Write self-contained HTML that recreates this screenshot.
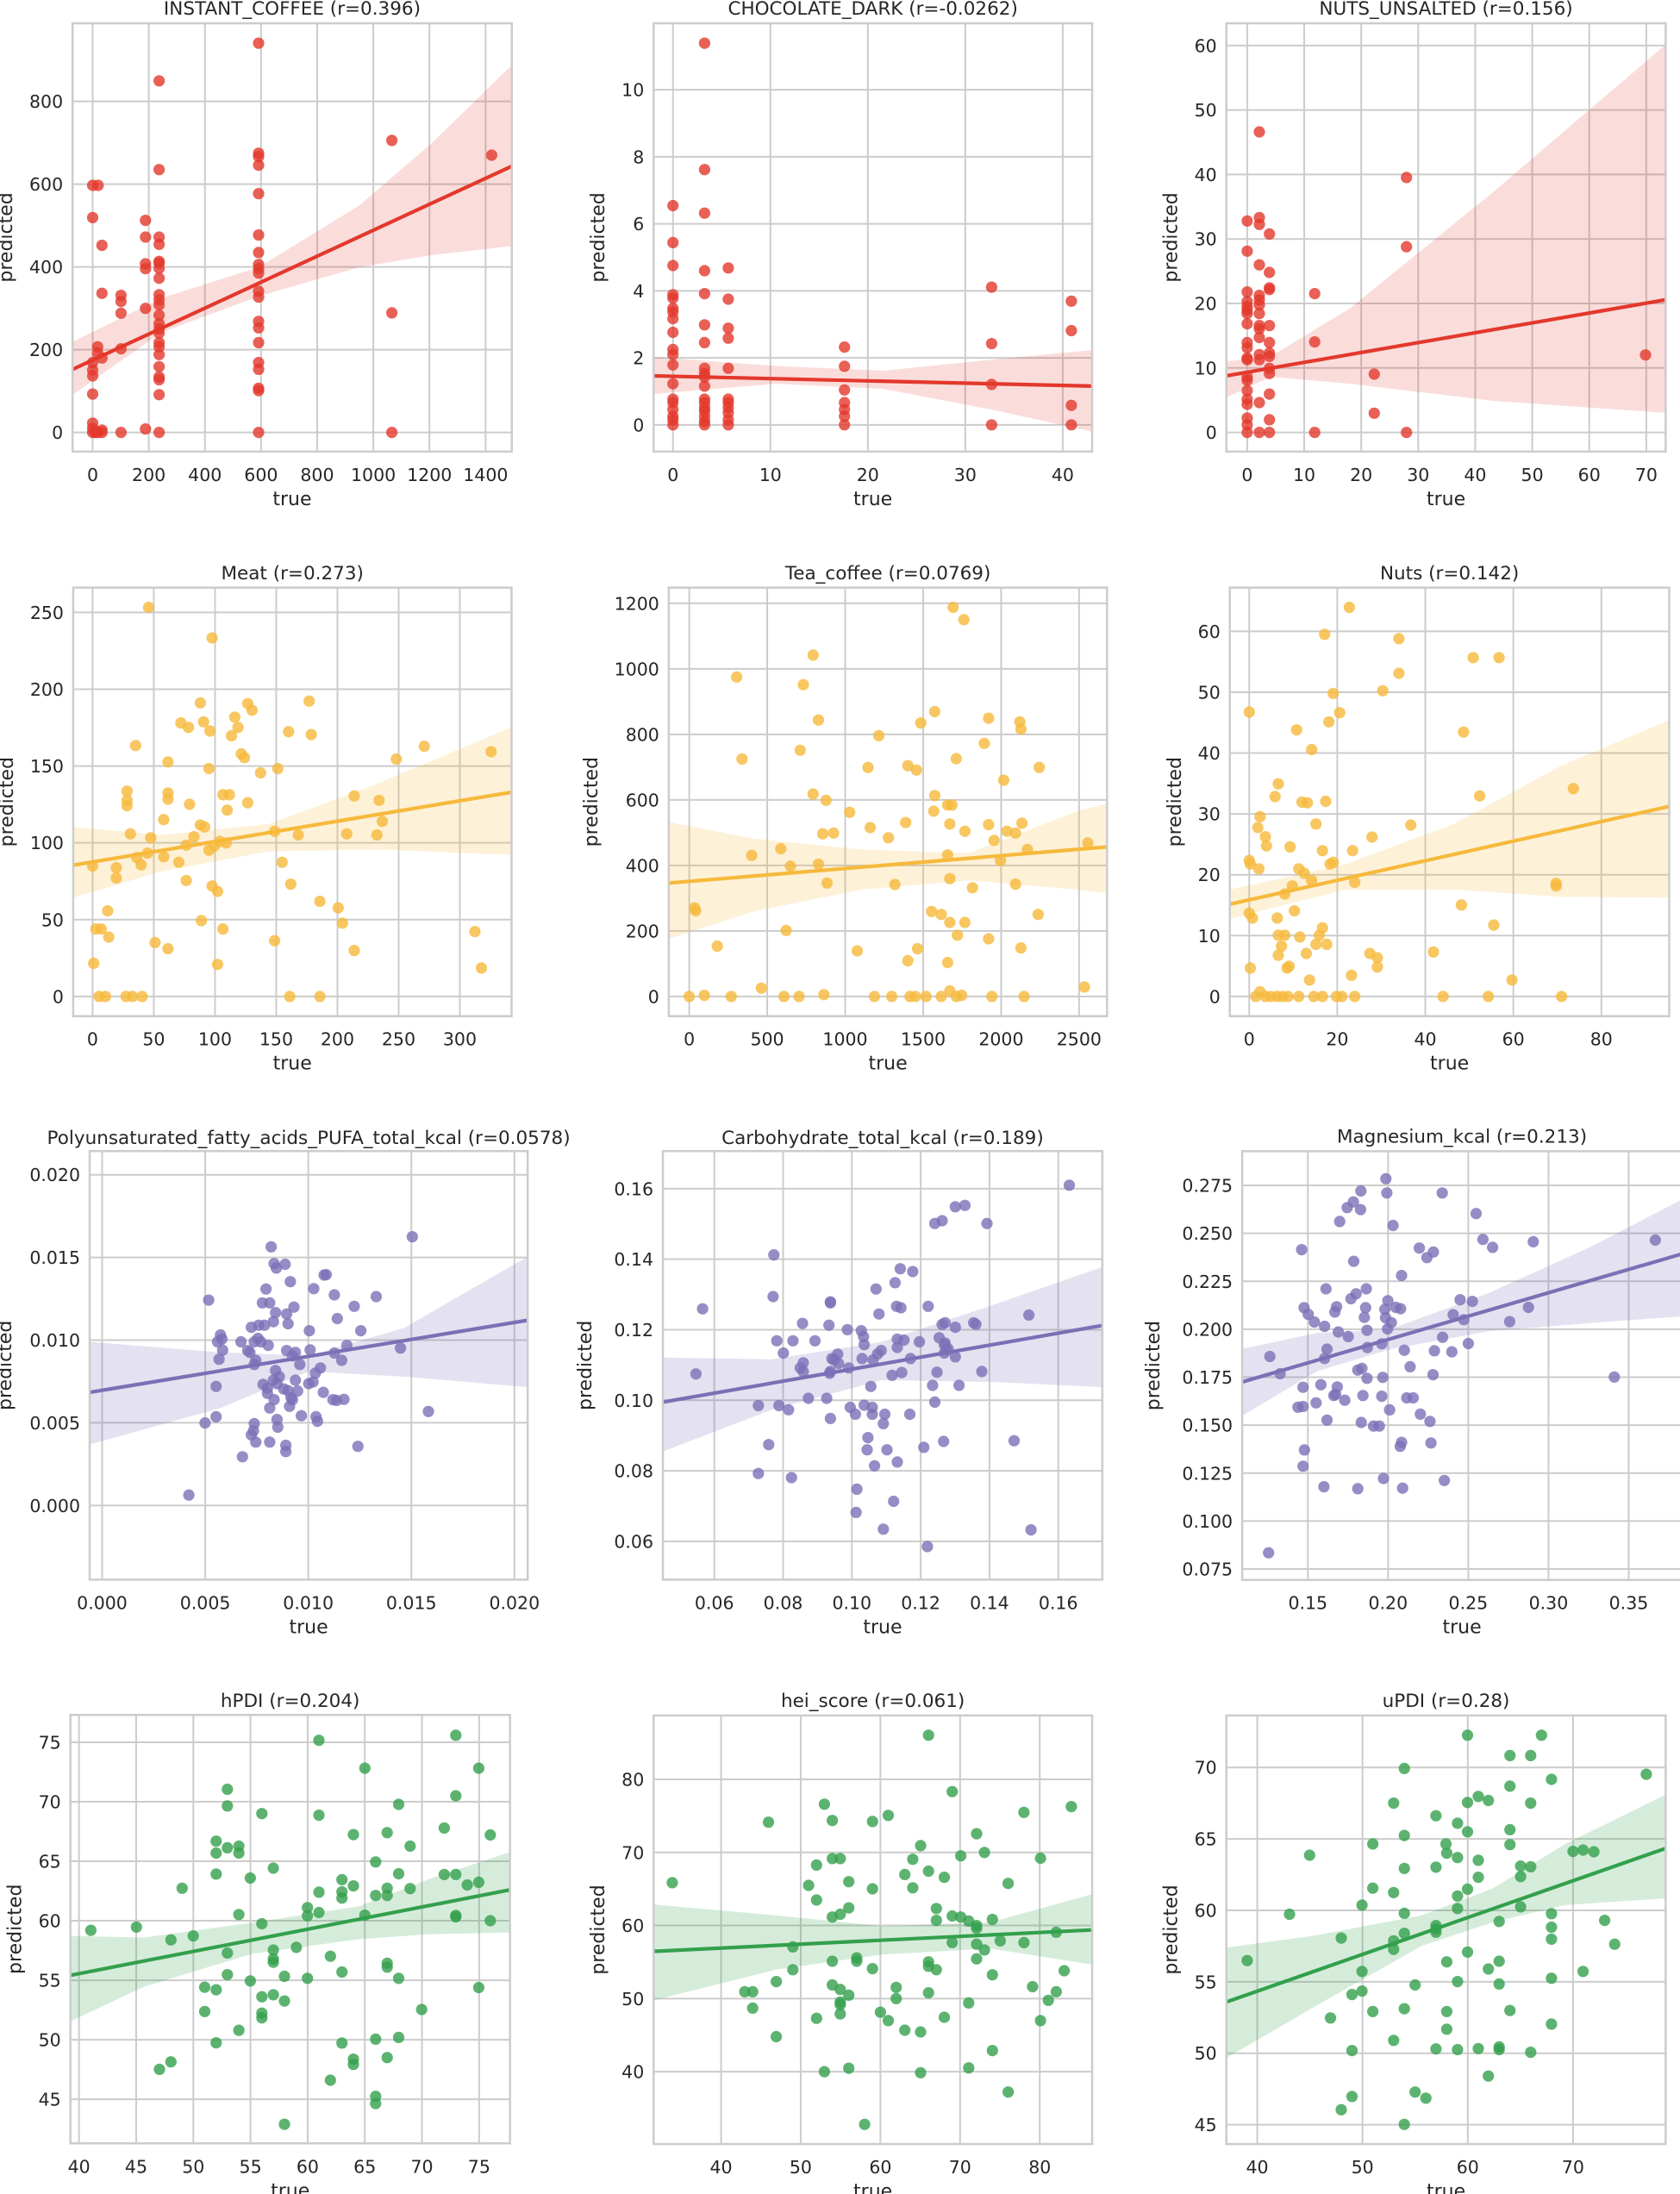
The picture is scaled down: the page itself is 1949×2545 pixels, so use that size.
<!DOCTYPE html>
<html><head><meta charset="utf-8"><style>html,body{margin:0;padding:0;background:#fff}svg{display:block}</style></head>
<body><div id="root"></div>
<script>
function col(x,ys){return ys.map(y=>[x,y]);}
const R='#e3382c',Yc='#f6b93b',Pu='#7a70b6',G='#33a04c';
const P=[
{z:[0,0,650/1560,620/1560],f:[202,68,1425,1318],xt:[0,200,8,258,1352,0],yt:[0,200,5,1262,296,0],title:'INSTANT_COFFEE (r=0.396)',ty:22,c:R,
line:[202,1078,1425,485],bt:[[202,998],[450,870],[720,780],[1000,600],[1200,420],[1425,190]],bb:[[202,1152],[450,970],[720,865],[1000,780],[1200,745],[1425,718]],
pts:[[258,541],[273,541],[258,635],[284,716],[284,856],[272,1012],[272,1030],[284,1045],[258,1058],[258,1080],[258,1097],[258,1150],[258,1235],[258,1250],[265,1262],[284,1255],[284,1262],[272,1262],[258,1262],
[337,862],[337,880],[337,914],[337,1018],[337,1262],[405,643],[405,692],[405,770],[405,784],[405,900],[405,1252],
...col(443,[236,495,692,713,763,768,783,812,860,875,890,920,945,960,972,1000,1012,1035,1070,1100,1108,1152,1262]),
...col(720,[126,447,457,482,565,686,737,772,784,797,850,867,938,957,1000,1058,1078,1133,1140,1262]),
[1091,410],[1091,913],[1091,1262],[1369,453]]},
{z:[650,0,1299/1560,620/1560],f:[130,68,741,1318],xt:[0,10,5,157,700,0],yt:[0,2,6,1240,262,0],title:'CHOCOLATE_DARK (r=-0.0262)',ty:22,c:R,
line:[130,1097,741,1127],bt:[[130,1042],[300,1068],[450,1082],[600,1050],[741,1022]],bb:[[130,1150],[300,1120],[450,1135],[600,1195],[741,1260]],
pts:[...col(157,[600,708,775,860,870,900,910,930,970,1020,1035,1065,1120,1165,1175,1195,1215,1225,1240]),
...col(201,[126,495,622,790,857,948,1000,1075,1090,1100,1127,1165,1175,1190,1200,1215,1230,1240]),
...col(234,[782,873,958,987,1075,1165,1175,1190,1205,1225,1240]),
...col(396,[1013,1069,1138,1175,1195,1215,1240]),...col(601,[838,1003,1122,1240]),...col(712,[879,965,1183,1240])]},
{z:[650,0,1299/1560,620/1560],f:[928,68,1540,1318],xt:[0,10,8,957,1513,0],yt:[0,10,7,1262,133,0],title:'NUTS_UNSALTED (r=0.156)',ty:22,c:R,
line:[928,1097,1540,875],bt:[[928,1055],[990,1040],[1100,900],[1300,560],[1540,130]],bb:[[928,1160],[990,1100],[1100,1120],[1300,1170],[1540,1205]],
pts:[...col(957,[645,733,852,880,895,905,915,945,1000,1015,1045,1050,1100,1110,1140,1165,1180,1220,1240,1262]),
...col(974,[385,635,655,773,862,875,890,915,950,960,985,1035,1050,1175,1262]),
...col(988,[683,795,840,845,950,1000,1030,1040,1075,1090,1150,1225,1262]),
...col(1051,[857,998,1262]),...col(1134,[1092,1206]),...col(1179,[518,720,1262]),[1512,1036]]},
{z:[0,630,1949/1560,660/1560],f:[68,122,475,1297],xt:[0,50,7,86,427,0],yt:[0,50,6,1243,190,0],title:'Meat (r=0.273)',ty:80,c:Yc,
line:[68,883,475,683],bt:[[68,778],[150,800],[250,770],[350,660],[475,505]],bb:[[68,972],[150,900],[250,845],[350,840],[475,855]],
pts:[[138,176],[197,260],[186,438],[168,493],[175,505],[189,490],[195,515],[218,477],[221,505],[215,528],[230,440],[234,458],[224,578],[227,588],[287,433],[268,517],[289,525],[126,555],[156,600],[194,618],[242,630],[258,618],[118,680],[118,705],[118,720],[156,685],[156,702],[176,716],[207,690],[213,690],[211,732],[230,712],[329,693],[352,705],[394,557],[368,592],[456,572],[121,797],[140,808],[152,758],[186,773],[190,778],[180,805],[173,828],[194,842],[199,830],[204,818],[210,822],[255,790],[277,800],[322,797],[350,800],[355,763],[86,885],[108,890],[108,918],[127,862],[131,882],[137,850],[152,860],[166,875],[197,940],[202,955],[173,925],[262,875],[270,935],[100,1008],[89,1058],[94,1058],[101,1080],[187,1035],[207,1058],[144,1095],[156,1112],[255,1090],[297,982],[314,1000],[318,1042],[329,1117],[87,1152],[202,1155],[441,1065],[447,1165],[92,1243],[98,1243],[117,1243],[123,1243],[132,1243],[269,1243],[297,1243]]},
{z:[0,630,1949/1560,660/1560],f:[621,122,1028,1297],xt:[0,500,6,640,1002,0],yt:[0,200,7,1243,165,0],title:'Tea_coffee (r=0.0769)',ty:80,c:Yc,
line:[621,932,1028,833],bt:[[621,765],[700,810],[800,840],[900,850],[1000,735],[1028,715]],bb:[[621,1085],[700,1010],[800,950],[900,925],[1000,950],[1028,960]],
pts:[[885,176],[895,210],[755,307],[684,367],[746,388],[868,462],[918,480],[760,485],[855,493],[948,510],[947,490],[816,528],[689,592],[743,568],[806,615],[843,610],[851,622],[888,591],[965,615],[932,650],[755,688],[767,705],[868,692],[880,718],[884,718],[789,738],[808,780],[841,766],[882,770],[896,790],[918,772],[914,549],[825,808],[764,797],[774,795],[935,790],[943,795],[949,768],[867,735],[923,815],[698,856],[725,838],[734,886],[760,880],[880,855],[954,840],[929,870],[1010,822],[768,932],[831,936],[882,920],[903,945],[943,935],[645,1000],[646,1008],[730,1062],[666,1105],[865,1010],[874,1018],[882,1040],[896,1040],[889,1075],[918,1085],[964,1018],[796,1118],[852,1112],[843,1145],[880,1150],[948,1110],[707,1220],[1007,1217],[640,1243],[654,1240],[679,1243],[728,1243],[742,1243],[765,1238],[812,1243],[828,1243],[845,1243],[850,1243],[860,1243],[874,1243],[882,1228],[888,1243],[893,1240],[921,1243],[951,1243]]},
{z:[0,630,1949/1560,660/1560],f:[1142,122,1550,1297],xt:[0,20,5,1160,1487,0],yt:[0,10,7,1243,242,0],title:'Nuts (r=0.142)',ty:80,c:Yc,
line:[1142,990,1550,722],bt:[[1142,950],[1250,880],[1350,770],[1450,610],[1550,485]],bb:[[1142,1030],[1250,950],[1350,950],[1450,970],[1550,972]],
pts:[[1253,176],[1230,250],[1299,262],[1368,314],[1392,314],[1299,357],[1284,405],[1238,412],[1244,465],[1234,490],[1160,463],[1204,512],[1218,566],[1359,518],[1187,660],[1184,695],[1209,710],[1214,712],[1231,708],[1374,693],[1461,673],[1170,750],[1168,780],[1175,805],[1176,830],[1198,833],[1222,770],[1310,773],[1274,806],[1228,843],[1256,843],[1160,870],[1161,880],[1169,893],[1206,893],[1211,905],[1218,925],[1238,875],[1235,880],[1200,940],[1193,962],[1258,930],[1445,933],[1445,940],[1160,1015],[1163,1028],[1186,1028],[1202,1008],[1187,1075],[1193,1075],[1207,1080],[1228,1055],[1225,1075],[1222,1100],[1232,1100],[1190,1105],[1187,1130],[1213,1125],[1195,1165],[1197,1160],[1272,1125],[1279,1137],[1279,1162],[1357,992],[1387,1047],[1331,1121],[1216,1198],[1255,1185],[1404,1198],[1161,1165],[1166,1243],[1170,1230],[1175,1243],[1180,1243],[1186,1243],[1191,1243],[1196,1243],[1206,1243],[1220,1243],[1228,1243],[1241,1243],[1246,1243],[1258,1243],[1340,1243],[1382,1243],[1450,1243]]},
{z:[0,1290,1330/1560,630/1560],f:[122,112,718,1343],xt:[0,0.005,5,139,700,3],yt:[0,0.005,5,1130,180,3],title:'Polyunsaturated_fatty_acids_PUFA_total_kcal (r=0.0578)',ty:72,c:Pu,
line:[122,805,718,598],bt:[[122,660],[300,690],[420,700],[550,620],[718,415]],bb:[[122,955],[300,850],[420,745],[550,760],[718,790]],
pts:[[561,358],[369,387],[373,435],[376,448],[388,437],[362,508],[395,487],[444,467],[441,468],[427,507],[455,525],[512,530],[284,540],[357,548],[367,548],[375,576],[400,560],[390,580],[482,558],[459,593],[342,618],[352,612],[360,612],[372,602],[392,608],[421,628],[491,628],[300,640],[302,652],[296,660],[328,660],[346,660],[351,650],[355,660],[365,670],[340,690],[337,685],[303,684],[298,710],[348,713],[346,725],[390,685],[398,700],[402,690],[408,725],[422,683],[455,692],[465,713],[472,670],[545,678],[375,742],[380,760],[372,770],[377,780],[358,782],[364,793],[386,795],[392,800],[396,820],[402,770],[405,801],[420,780],[426,775],[436,735],[429,750],[364,808],[373,826],[367,850],[394,845],[398,826],[410,872],[430,875],[432,888],[440,805],[453,826],[458,828],[468,825],[294,788],[294,875],[279,893],[346,895],[345,915],[342,927],[377,883],[378,905],[348,948],[367,948],[389,957],[389,975],[330,990],[487,960],[257,1100],[583,860]]},
{z:[0,1290,1330/1560,630/1560],f:[902,112,1500,1343],xt:[0.06,0.02,6,972,1440,2],yt:[0.06,0.02,6,1233,220,2],title:'Carbohydrate_total_kcal (r=0.189)',ty:72,c:Pu,
line:[902,833,1500,613],bt:[[902,705],[1050,710],[1200,660],[1350,555],[1500,445]],bb:[[902,975],[1050,855],[1200,770],[1350,775],[1500,790]],
pts:[[1455,210],[1313,268],[1300,272],[1282,312],[1272,320],[1343,320],[1053,410],[1225,450],[1242,458],[1218,490],[1192,508],[956,565],[1052,530],[1130,545],[1130,548],[1220,558],[1226,562],[1196,580],[1263,558],[1092,607],[1128,612],[1153,625],[1172,628],[1282,610],[1286,605],[1300,618],[1325,605],[1328,610],[1057,657],[1079,657],[1109,657],[1175,645],[1176,668],[1221,652],[1230,655],[1251,660],[1278,648],[1066,692],[1140,695],[1132,708],[1199,685],[1221,676],[1286,663],[1290,680],[1288,683],[1285,668],[1093,720],[1089,735],[1130,745],[1135,712],[1141,722],[1155,735],[1173,708],[1188,712],[1194,695],[1239,708],[1285,692],[1300,703],[947,752],[1093,745],[1129,750],[1214,756],[1227,748],[1275,747],[1336,745],[1185,788],[1269,785],[1305,785],[1100,822],[1125,822],[1060,843],[1157,848],[1176,842],[1187,848],[1032,843],[1073,855],[1130,880],[1164,868],[1204,868],[1187,868],[1238,868],[1272,833],[1202,895],[1046,955],[1181,935],[1180,970],[1207,970],[1257,963],[1284,946],[1380,944],[1190,1016],[1221,1005],[1032,1038],[1077,1050],[1166,1083],[1216,1118],[1165,1150],[1202,1198],[1262,1248],[1403,1200],[1400,583]]},
{z:[1330,1300,619/1560,600/1560],f:[280,92,1565,1385],xt:[0.15,0.05,5,472,1410,2],yt:[0.075,0.025,9,1352,195,3],title:'Magnesium_kcal (r=0.213)',ty:45,c:Pu,
line:[280,788,1565,402],bt:[[280,688],[500,640],[710,630],[1000,520],[1300,380],[1565,238]],bb:[[280,890],[500,755],[710,690],[1000,635],[1300,610],[1565,590]],
pts:[[700,175],[703,218],[627,212],[865,218],[605,245],[587,262],[626,268],[964,280],[565,304],[721,316],[984,358],[1012,382],[1131,365],[1488,360],[454,389],[798,384],[839,396],[820,413],[606,424],[746,467],[525,507],[643,507],[613,522],[598,537],[556,561],[641,564],[551,577],[706,543],[729,563],[743,567],[697,569],[699,594],[637,593],[917,540],[953,545],[461,564],[473,584],[491,607],[897,585],[928,600],[1117,563],[1062,606],[716,609],[705,628],[521,620],[561,637],[590,651],[645,632],[866,653],[941,672],[688,673],[528,689],[646,684],[754,692],[842,694],[893,697],[521,717],[361,711],[391,763],[618,752],[630,747],[645,777],[691,774],[771,742],[838,766],[1368,773],[510,796],[458,804],[558,803],[553,825],[548,829],[496,851],[580,843],[633,829],[688,831],[761,836],[780,836],[443,864],[458,862],[711,872],[528,903],[628,910],[801,885],[829,907],[664,921],[681,921],[746,970],[742,982],[832,972],[462,993],[458,1042],[693,1079],[871,1085],[519,1104],[618,1110],[749,1108],[357,1303]]},
{z:[0,1950,650/1560,595/1560],f:[196,103,1420,1406],xt:[40,5,8,220,1334,0],yt:[45,5,7,1272,186,0],title:'hPDI (r=0.204)',ty:58,c:G,
line:[196,895,1420,635],bt:[[196,775],[400,780],[700,735],[1000,685],[1200,600],[1420,520]],bb:[[196,1035],[400,930],[700,830],[1000,785],[1200,770],[1420,765]],
pts:[[888,180],[1269,165],[1016,265],[1333,265],[633,329],[633,380],[1269,349],[729,403],[888,408],[1110,375],[1237,447],[984,467],[1078,461],[1365,468],[1142,502],[602,487],[602,523],[633,507],[665,502],[665,523],[761,569],[1046,550],[1237,588],[1269,588],[1110,586],[602,587],[697,599],[507,630],[952,604],[984,623],[1301,620],[1333,612],[888,642],[952,641],[952,660],[1046,652],[1078,630],[1078,652],[1142,631],[856,689],[856,714],[888,704],[665,710],[1016,712],[1269,713],[1269,717],[1365,729],[729,738],[253,758],[380,748],[476,787],[538,775],[825,810],[633,827],[761,818],[761,845],[761,855],[920,837],[1078,858],[1078,870],[633,893],[952,885],[792,898],[697,912],[856,904],[1110,904],[1333,932],[570,931],[602,939],[729,960],[761,954],[792,973],[1174,999],[570,1005],[729,1010],[729,1024],[665,1062],[602,1100],[1046,1089],[1110,1084],[952,1101],[1078,1145],[984,1150],[984,1166],[476,1158],[444,1181],[920,1214],[1046,1263],[1046,1285],[792,1348]]},
{z:[650,1930,1299/1560,615/1560],f:[130,152,741,1413],xt:[40,10,5,224,668,0],yt:[40,10,5,1200,340,0],title:'hei_score (r=0.061)',ty:107,c:G,
line:[130,846,741,783],bt:[[130,708],[300,740],[450,772],[600,760],[741,678]],bb:[[130,990],[300,900],[450,855],[600,838],[741,885]],
pts:[[513,210],[546,376],[712,420],[368,413],[379,461],[290,466],[435,464],[457,446],[646,437],[580,500],[502,535],[558,565],[591,555],[669,572],[357,592],[379,573],[390,573],[491,575],[480,620],[513,610],[535,628],[624,646],[346,652],[402,641],[435,662],[491,659],[357,695],[402,718],[156,644],[524,720],[524,755],[379,745],[390,737],[546,742],[558,745],[569,757],[580,770],[580,778],[602,752],[691,790],[324,833],[546,820],[580,825],[591,842],[613,815],[646,820],[379,875],[413,865],[413,875],[580,868],[513,877],[513,890],[524,900],[435,897],[324,900],[602,915],[702,903],[301,935],[379,945],[390,958],[257,965],[268,965],[402,975],[468,952],[468,985],[513,968],[658,950],[691,965],[680,990],[268,1013],[390,995],[390,1003],[390,1030],[569,998],[446,1025],[357,1043],[457,1050],[535,1040],[669,1050],[480,1078],[502,1083],[301,1097],[602,1138],[368,1200],[402,1190],[502,1203],[569,1189],[624,1260],[424,1355]]},
{z:[650,1930,1299/1560,615/1560],f:[928,152,1540,1413],xt:[40,10,4,971,1411,0],yt:[45,5,6,1356,305,0],title:'uPDI (r=0.28)',ty:107,c:G,
line:[928,995,1540,543],bt:[[928,835],[1050,800],[1200,740],[1300,660],[1400,530],[1540,385]],bb:[[928,1160],[1050,1010],[1200,830],[1300,760],[1400,710],[1540,690]],
pts:[[1264,210],[1367,210],[1323,270],[1352,270],[1176,308],[1513,325],[1381,340],[1323,360],[1279,390],[1293,402],[1264,408],[1161,410],[1352,410],[1220,447],[1250,469],[1176,505],[1323,488],[1264,494],[1132,530],[1323,532],[1234,530],[1235,557],[1411,552],[1425,548],[1440,553],[1044,563],[1250,570],[1279,578],[1338,595],[1352,597],[1176,602],[1220,598],[1279,628],[1338,626],[1132,660],[1264,663],[1161,673],[1250,683],[1117,710],[1338,715],[1250,720],[1176,734],[1381,735],[1016,737],[1455,755],[1308,758],[1220,770],[1220,780],[1220,790],[1176,793],[1381,775],[1381,810],[1161,815],[1088,807],[1469,825],[1161,840],[1264,848],[957,873],[1235,877],[1308,875],[1293,898],[1425,905],[1117,905],[1191,945],[1250,935],[1308,942],[1381,925],[1103,973],[1117,963],[1132,1023],[1176,1015],[1235,1023],[1323,1020],[1073,1042],[1381,1060],[1235,1075],[1161,1108],[1103,1138],[1220,1133],[1250,1135],[1279,1132],[1308,1127],[1308,1135],[1352,1143],[1293,1213],[1191,1260],[1206,1278],[1103,1273],[1088,1312],[1176,1355]]}
];
const FONT='font-family="DejaVu Sans, Liberation Sans, sans-serif"';
let s='<svg xmlns="http://www.w3.org/2000/svg" width="1949" height="2545" viewBox="0 0 1949 2545"><rect width="1949" height="2545" fill="#fff"/>';
P.forEach((p,i)=>{
 const X=v=>p.z[0]+v*p.z[2], Y=v=>p.z[1]+v*p.z[3];
 const l=X(p.f[0]),t=Y(p.f[1]),r=X(p.f[2]),b=Y(p.f[3]);
 s+=`<clipPath id="c${i}"><rect x="${l}" y="${t}" width="${r-l}" height="${b-t}"/></clipPath>`;
 const xt=p.xt,yt=p.yt;let maxw=0;
 for(let k=0;k<xt[2];k++){const px=X(xt[3]+k*(xt[4]-xt[3])/(xt[2]-1));
  s+=`<line x1="${px}" y1="${t}" x2="${px}" y2="${b}" stroke="#cccccc" stroke-width="2"/>`;
  s+=`<text x="${px}" y="${b+34}" text-anchor="middle" font-size="20.5" fill="#262626" ${FONT}>${(xt[0]+k*xt[1]).toFixed(xt[5])}</text>`;}
 for(let k=0;k<yt[2];k++){const py=Y(yt[3]+k*(yt[4]-yt[3])/(yt[2]-1));const lab=(yt[0]+k*yt[1]).toFixed(yt[5]);
  maxw=Math.max(maxw,lab.length*13);
  s+=`<line x1="${l}" y1="${py}" x2="${r}" y2="${py}" stroke="#cccccc" stroke-width="2"/>`;
  s+=`<text x="${l-11}" y="${py+7.5}" text-anchor="end" font-size="20.5" fill="#262626" ${FONT}>${lab}</text>`;}
 const bt=p.bt.map(q=>`${X(q[0])},${Y(q[1])}`),bb=p.bb.slice().reverse().map(q=>`${X(q[0])},${Y(q[1])}`);
 const bo=p.c===R?0.17:0.2;
 s+=`<g clip-path="url(#c${i})"><polygon points="${bt.concat(bb).join(' ')}" fill="${p.c}" fill-opacity="${bo}"/>`;
 s+=`<line x1="${X(p.line[0])}" y1="${Y(p.line[1])}" x2="${X(p.line[2])}" y2="${Y(p.line[3])}" stroke="${p.c}" stroke-width="4.2"/>`;
 p.pts.forEach(q=>{s+=`<circle cx="${X(q[0]).toFixed(1)}" cy="${Y(q[1]).toFixed(1)}" r="6.6" fill="${p.c}" fill-opacity="0.8"/>`;});
 s+='</g>';
 s+=`<rect x="${l}" y="${t}" width="${r-l}" height="${b-t}" fill="none" stroke="#cccccc" stroke-width="2.5"/>`;
 const cx=(l+r)/2;
 s+=`<text x="${cx}" y="${Y(p.ty)+8}" text-anchor="middle" font-size="21.5" fill="#262626" ${FONT}>${p.title}</text>`;
 s+=`<text x="${cx}" y="${b+62}" text-anchor="middle" font-size="22" fill="#262626" ${FONT}>true</text>`;
 const yx=Math.max(13,l-11-maxw-20),cy=(t+b)/2;
 s+=`<text x="${yx}" y="${cy}" transform="rotate(-90 ${yx} ${cy})" text-anchor="middle" font-size="22" fill="#262626" ${FONT}>predicted</text>`;
});
s+='</svg>';
document.getElementById('root').innerHTML=s;
</script></body></html>
